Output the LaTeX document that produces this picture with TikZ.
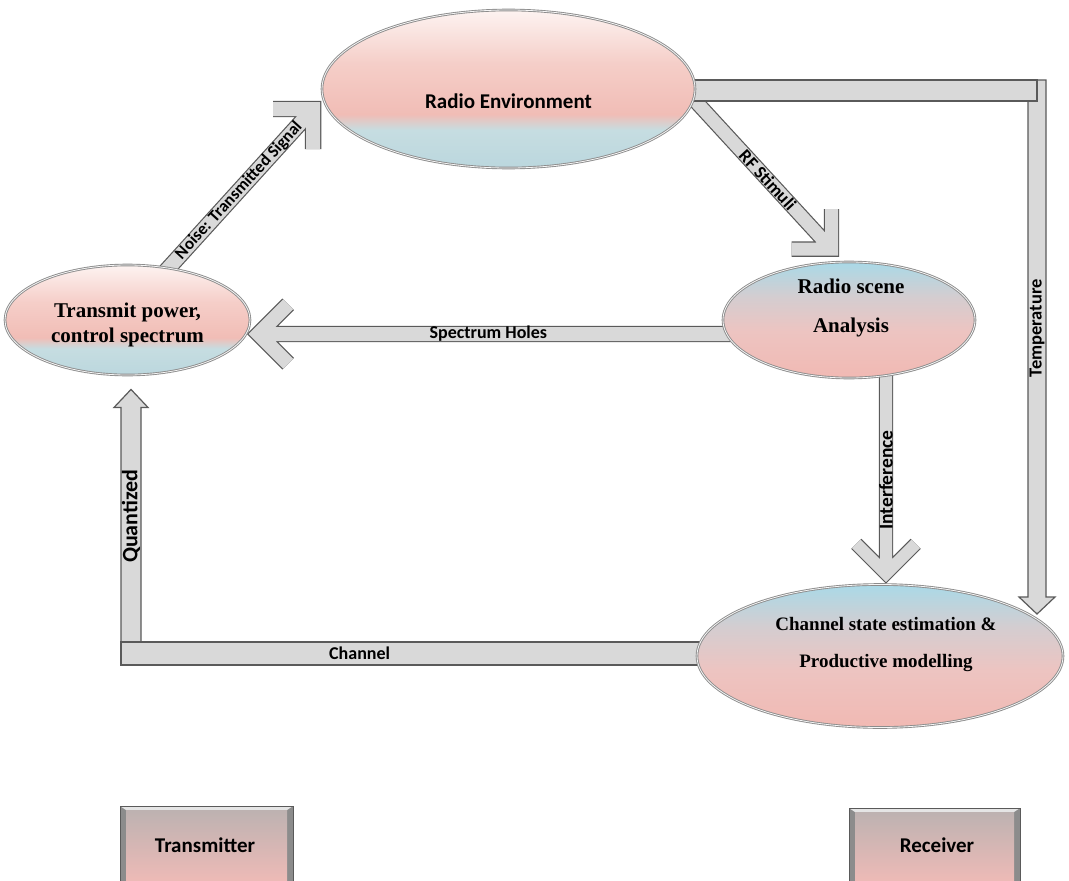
\documentclass[tikz,border=0pt]{standalone}
\usepackage{fontspec}
\setmainfont{Liberation Serif}
\newfontfamily\calib{Carlito}
\usetikzlibrary{shapes.geometric,calc}
\pgfdeclarelayer{background}
\pgfsetlayers{background,main}
\definecolor{cfill}{HTML}{D9D9D9}
\definecolor{cedge}{HTML}{5A5A5A}
\definecolor{elledge}{HTML}{8C8C8C}
\definecolor{blA}{HTML}{BBD7DE}
\definecolor{blB}{HTML}{C6DDE1}
\definecolor{pkA}{HTML}{F1BDB6}
\definecolor{pkB}{HTML}{F5CEC8}
\definecolor{pkC}{HTML}{FDF3F1}
\definecolor{pkD}{HTML}{F1B9B3}
\definecolor{pkE}{HTML}{EDC4C1}
\definecolor{midc}{HTML}{D4CDD0}
\definecolor{blC}{HTML}{A9D9E7}
\definecolor{boxtop}{HTML}{BDB2B1}
\definecolor{boxbot}{HTML}{F1BBB7}
\pgfdeclareverticalshading{pinktop}{100bp}{color(0bp)=(blA); color(25bp)=(blA); color(37bp)=(blB); color(42bp)=(pkA); color(58bp)=(pkB); color(75bp)=(pkC); color(100bp)=(pkC)}
\pgfdeclareverticalshading{bluetop}{100bp}{color(0bp)=(pkD); color(25bp)=(pkD); color(45bp)=(pkE); color(60bp)=(midc); color(75bp)=(blC); color(100bp)=(blC)}
\newcommand\chevarrow[8]{%
  \draw[chevout, line width=#5+2.4pt] (#1) -- (#2) (#3) -- (#2) -- (#4);
  \draw[chevin, line width=#5] (#1) -- (#2) (#3) -- (#2) -- (#4);
  \path (#1) -- (#2) node[lbl, #6] (#7) {#8};
}
\begin{document}
\begin{tikzpicture}[x=1pt,y=-1pt,
  ell/.style={ellipse, inner sep=0pt, draw=elledge, double=white!92!gray, double distance=0.8pt, line width=0.9pt},
  rmtxt/.style={inner sep=0pt, text=black, align=center},
  sftxt/.style={inner sep=0pt, text=black, font=\calib\bfseries\fontsize{21}{25}\selectfont},
  lbl/.style={inner sep=0pt, text=black, font=\calib\bfseries\fontsize{18}{20}\selectfont},
  chevout/.style={draw=cedge, line join=miter, line cap=butt},
  chevin/.style={draw=cfill, line join=miter, line cap=butt},
  blk/.style={fill=cfill, draw=cedge, line width=1.2pt, line join=miter},
  box/.style={rectangle, inner sep=0pt, fill=elledge, draw=cedge, line width=1pt,
    path picture={
      \fill[white!80!gray] (path picture bounding box.north west) -- (path picture bounding box.north east)
        -- ($(path picture bounding box.north east)+(-6,4)$) -- ($(path picture bounding box.north west)+(6,4)$) -- cycle;
      \shade[top color=boxtop, bottom color=boxbot] ($(path picture bounding box.north west)+(6,4)$) rectangle ($(path picture bounding box.south east)+(-6,0)$);
    }}
]
\useasboundingbox (0,0) rectangle (1069,881);

% ---------- nodes ----------
\node[ell, shading=pinktop, minimum width=373pt, minimum height=158pt] (re) at (508.5,89) {};
\node[sftxt, anchor=base] (reT) at (508.5,108) {Radio Environment};

\node[ell, shading=pinktop, minimum width=245pt, minimum height=110pt] (tp) at (127.5,320) {};
\node[rmtxt, font=\bfseries\fontsize{21}{25}\selectfont] (tpT) at (127.5,325) {Transmit power,\\control spectrum};

\node[ell, shading=bluetop, minimum width=252pt, minimum height=116pt] (rs) at (849,320) {};
\node[rmtxt, font=\bfseries\fontsize{21}{39}\selectfont] (rsT) at (851,307.5) {Radio scene\\Analysis};

\node[ell, shading=bluetop, minimum width=366pt, minimum height=143pt] (cs) at (880,656) {};
\node[rmtxt, font=\bfseries\fontsize{19}{37}\selectfont] (csT) at (886,644) {Channel state estimation \&\\Productive modelling};

\node[box, minimum width=173pt, minimum height=80pt] (tx) at (206.5,846) {};
\node[sftxt, anchor=base] (txT) at (205,852) {Transmitter};
\node[box, minimum width=171pt, minimum height=78pt] (rx) at (934.5,847) {};
\node[sftxt, anchor=base] (rxT) at (937,852.5) {Receiver};

% ---------- connectors ----------
\begin{pgfonlayer}{background}
\fill[white] (0,0) rectangle (1069,881);

% Noise: Transmitted Signal
\coordinate (ns) at ($(tp.center)+(37.5,-48)$);
\coordinate (nt) at ($(re.west)+(-8.5,20)$);
\coordinate (na) at ($(nt)+(-40,0)$);
\coordinate (nb) at ($(nt)+(0,40)$);
\chevarrow{ns}{nt}{na}{nb}{14pt}{sloped, pos=0.5, font=\calib\bfseries\fontsize{17}{20}\selectfont}{lnoise}{Noise: Transmitted Signal}

% RF Stimuli
\coordinate (fs) at ($(re.east)+(-12,-1)$);
\coordinate (ft) at ($(rs.north)+(-17.5,-12.5)$);
\coordinate (fa) at ($(ft)+(-40,0)$);
\coordinate (fb) at ($(ft)+(0,-40)$);
\chevarrow{fs}{ft}{fa}{fb}{13pt}{sloped, pos=0.57, font=\calib\bfseries\fontsize{18}{20}\selectfont}{lrf}{RF Stimuli}

% top bar + Temperature
\coordinate (bt) at ($(re.east)+(-5,-9)$);
\coordinate (bb) at ($(re.east)+(-5,12)$);
\coordinate (tt) at ($(cs.center)+(157,-42)$);
\draw[blk] ($(tt|-bt)+(-9,0)$) -- ($(tt|-bt)+(9,0)$) -- ($(tt)+(9,-17)$) -- ($(tt)+(18,-17)$) -- (tt)
  -- ($(tt)+(-18,-17)$) -- ($(tt)+(-9,-17)$) -- cycle;
\draw[blk] (bt) rectangle (tt|-bb);
\node[lbl, rotate=90, font=\calib\bfseries\fontsize{18.5}{20}\selectfont] (ltemp) at ($(tt|-bt)!0.465!(tt)$) {Temperature};

% Spectrum Holes
\coordinate (ss) at ($(rs.west)+(15,14)$);
\coordinate (st) at ($(tp.east)+(8,14)$);
\coordinate (sa) at ($(st)+(29.7,-29.7)$);
\coordinate (sb) at ($(st)+(29.7,29.7)$);
\chevarrow{ss}{st}{sa}{sb}{14pt}{pos=0.52}{lspec}{Spectrum Holes}

% Interference
\coordinate (is) at ($(rs.south)+(37,-13)$);
\coordinate (it) at ($(cs.north)+(6,-10.5)$);
\coordinate (ia) at ($(it)+(-29.7,-29.7)$);
\coordinate (ib) at ($(it)+(29.7,-29.7)$);
\chevarrow{is}{it}{ia}{ib}{12pt}{pos=0.55, rotate=90, font=\calib\bfseries\fontsize{19.5}{20}\selectfont}{lint}{Interference}

% Quantized + Channel
\coordinate (qt) at ($(tp.south)+(3.5,14)$);
\coordinate (cb) at ($(cs.west)+(6,-2.5)$);
\draw[blk] ($(qt|-cb)+(-10,0)$) -- ($(qt)+(-10,18)$) -- ($(qt)+(-17,18)$) -- (qt) -- ($(qt)+(17,18)$)
  -- ($(qt)+(10,18)$) -- ($(qt|-cb)+(10,0)$) -- cycle;
\draw[blk] ($(qt|-cb)+(-10,-11.5)$) rectangle ($(cb)+(0,11.5)$);
\node[lbl, rotate=90, font=\calib\bfseries\fontsize{22}{24}\selectfont] (lq) at ($(qt)!0.48!(qt|-cb)$) {Quantized};
\node[lbl] (lch) at ($(qt|-cb)!0.4!(cb)$) {Channel};
\end{pgfonlayer}
\end{tikzpicture}
\end{document}
